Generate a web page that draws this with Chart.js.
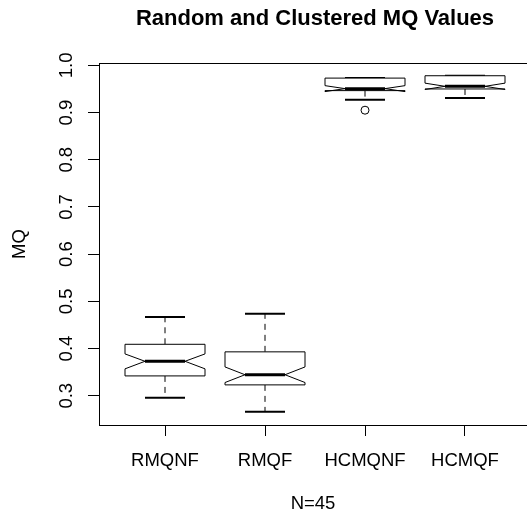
<!DOCTYPE html>
<html>
<head>
<meta charset="utf-8">
<script src="https://cdn.jsdelivr.net/npm/chart.js@4"></script>
<style>
  html, body { margin: 0; padding: 0; background: #fff; }
  canvas { display: block; }
</style>
</head>
<body>
<canvas id="mqChart" width="527" height="516"></canvas>
<script>
const categories = ['RMQNF', 'RMQF', 'HCMQNF', 'HCMQF'];
const whiskerLow = [0.296, 0.266, 0.927, 0.931];
const lowerQuartile = [0.342, 0.323, 0.9465, 0.950];
const medians = [0.373, 0.3445, 0.9507, 0.9556];
const upperQuartile = [0.409, 0.393, 0.973, 0.978];
const whiskerHigh = [0.467, 0.4735, 0.973, 0.978];
const notchLow = [0.357, 0.328, 0.9444, 0.9489];
const notchHigh = [0.3886, 0.361, 0.957, 0.9623];
const outliers = [{ x: 3, y: 0.905 }];
const yTicks = [0.3, 0.4, 0.5, 0.6, 0.7, 0.8, 0.9, 1.0];
const xTicks = [1, 2, 3, 4];

const FONT = '"Liberation Sans", Arial, Helvetica, sans-serif';

// draws the notched boxes, the frame top, the title and the rotated y labels
const boxPlotPlugin = {
  id: 'boxPlot',
  beforeDatasetsDraw(chart) {
    const { ctx, chartArea, scales: { x, y } } = chart;
    const line = (x1, y1, x2, y2) => {
      ctx.beginPath();
      ctx.moveTo(x1, y1);
      ctx.lineTo(x2, y2);
      ctx.stroke();
    };
    ctx.save();
    ctx.strokeStyle = '#000';
    ctx.lineWidth = 1;
    const top = Math.round(chartArea.top) + 0.5;
    line(chartArea.left, top, chartArea.right, top);

    categories.forEach((name, i) => {
      const cx = x.getPixelForValue(xTicks[i]);
      const hw = x.getPixelForValue(xTicks[i] + 0.4) - cx;
      const py = v => y.getPixelForValue(v);

      ctx.lineWidth = 1;
      ctx.setLineDash([6, 5]);
      if (whiskerHigh[i] > upperQuartile[i]) line(cx, py(upperQuartile[i]), cx, py(whiskerHigh[i]));
      if (whiskerLow[i] < lowerQuartile[i]) line(cx, py(lowerQuartile[i]), cx, py(whiskerLow[i]));
      ctx.setLineDash([]);

      ctx.lineWidth = 2;
      line(cx - hw / 2, py(whiskerHigh[i]), cx + hw / 2, py(whiskerHigh[i]));
      line(cx - hw / 2, py(whiskerLow[i]), cx + hw / 2, py(whiskerLow[i]));

      ctx.lineWidth = 1;
      ctx.fillStyle = '#fff';
      ctx.beginPath();
      ctx.moveTo(cx - hw, py(lowerQuartile[i]));
      ctx.lineTo(cx - hw, py(notchLow[i]));
      ctx.lineTo(cx - hw / 2, py(medians[i]));
      ctx.lineTo(cx - hw, py(notchHigh[i]));
      ctx.lineTo(cx - hw, py(upperQuartile[i]));
      ctx.lineTo(cx + hw, py(upperQuartile[i]));
      ctx.lineTo(cx + hw, py(notchHigh[i]));
      ctx.lineTo(cx + hw / 2, py(medians[i]));
      ctx.lineTo(cx + hw, py(notchLow[i]));
      ctx.lineTo(cx + hw, py(lowerQuartile[i]));
      ctx.closePath();
      ctx.fill();
      ctx.stroke();

      ctx.lineWidth = 3;
      line(cx - hw / 2, py(medians[i]), cx + hw / 2, py(medians[i]));
    });
    ctx.restore();
  },
  afterDraw(chart) {
    const { ctx, scales: { x, y } } = chart;
    ctx.save();
    ctx.fillStyle = '#000';
    ctx.textAlign = 'center';
    ctx.textBaseline = 'alphabetic';
    ctx.font = 'bold 22px ' + FONT;
    ctx.fillText('Random and Clustered MQ Values', x.getPixelForValue(2.5), 25);

    ctx.font = '18.5px ' + FONT;
    ctx.textBaseline = 'middle';
    yTicks.forEach(v => {
      ctx.save();
      ctx.translate(66.5, y.getPixelForValue(v));
      ctx.rotate(-Math.PI / 2);
      ctx.fillText(v.toFixed(1), 0, 0);
      ctx.restore();
    });
    ctx.restore();
  }
};

new Chart(document.getElementById('mqChart'), {
  type: 'scatter',
  data: {
    datasets: [{
      label: 'outliers',
      data: outliers,
      pointRadius: 4,
      pointHoverRadius: 4,
      borderColor: '#000',
      backgroundColor: 'rgba(0,0,0,0)',
      borderWidth: 1
    }]
  },
  options: {
    responsive: false,
    animation: false,
    devicePixelRatio: 1,
    layout: { autoPadding: false, padding: { top: 63, right: 0, left: 0, bottom: 0 } },
    plugins: {
      legend: { display: false },
      tooltip: { enabled: false },
      title: { display: false }
    },
    scales: {
      x: {
        type: 'linear',
        min: 0.34,
        max: 4.62,
        afterBuildTicks: s => { s.ticks = xTicks.map(v => ({ value: v })); },
        afterFit: s => { s.height = 91; },
        ticks: {
          callback: v => categories[v - 1],
          font: { family: FONT, size: 18.5 },
          color: '#000',
          padding: 14,
          maxRotation: 0,
          autoSkip: false
        },
        grid: { drawOnChartArea: false, tickLength: 11, tickColor: '#000', color: '#000' },
        border: { color: '#000', width: 1 },
        title: {
          display: true,
          text: 'N=45',
          color: '#000',
          font: { family: FONT, size: 18.5 },
          padding: { top: 0, bottom: 1 }
        }
      },
      y: {
        min: 0.238,
        max: 1.005,
        afterBuildTicks: s => { s.ticks = yTicks.map(v => ({ value: v })); },
        afterFit: s => { s.width = 99; },
        ticks: { display: false },
        grid: { drawOnChartArea: false, tickLength: 11, tickColor: '#000', color: '#000' },
        border: { color: '#000', width: 1 },
        title: {
          display: true,
          text: 'MQ',
          color: '#000',
          font: { family: FONT, size: 18.5 },
          padding: { top: 9, bottom: 0 }
        }
      }
    }
  },
  plugins: [boxPlotPlugin]
});
</script>
</body>
</html>
